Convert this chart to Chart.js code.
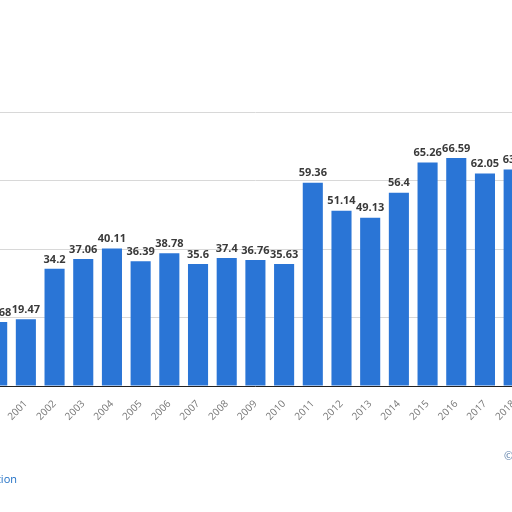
<!DOCTYPE html>
<html><head><meta charset="utf-8">
<script src="https://cdn.jsdelivr.net/npm/chart.js@4/dist/chart.umd.min.js"></script>
<style>
html,body{margin:0;padding:0;width:512px;height:512px;overflow:hidden;background:#fff;font-family:"Open Sans",sans-serif}
#wrap{position:absolute;left:-23.5px;top:0;width:551px;height:512px}
#info{position:absolute;left:-99px;top:471px;font-size:11px;color:#1f6fc5;white-space:nowrap}
#copy{position:absolute;left:504px;top:448px;font-size:11px;color:#5b7ea8}
</style></head><body>
<div id="wrap"><canvas id="c"></canvas></div>
<div id="info">Additional Information</div>
<div id="copy">©</div>
<script>
const years=["2000","2001","2002","2003","2004","2005","2006","2007","2008","2009","2010","2011","2012","2013","2014","2015","2016","2017","2018"];
const values=[18.68,19.47,34.2,37.06,40.11,36.39,38.78,35.6,37.4,36.76,35.63,59.36,51.14,49.13,56.4,65.26,66.59,62.05,63.2];
const yTicks=[0,20,40,60,80];
const labelPlugin={id:'lbl',afterDatasetsDraw(chart){
  const ctx=chart.ctx, meta=chart.getDatasetMeta(0);
  ctx.save();ctx.font='bold 11px "Open Sans"';ctx.fillStyle='#3a3a3a';ctx.textAlign='center';ctx.textBaseline='bottom';
  meta.data.forEach((b,i)=>{ctx.fillText(String(values[i]),b.x,b.y-4);});
  ctx.restore();}};
new Chart(document.getElementById('c'),{type:'bar',
 data:{labels:years,datasets:[{data:values,backgroundColor:'#2a75d6',barPercentage:0.7,categoryPercentage:1}]},
 options:{responsive:true,maintainAspectRatio:false,animation:false,
  layout:{padding:{top:112,left:0,right:0,bottom:0}},
  plugins:{legend:{display:false},tooltip:{enabled:false}},
  scales:{
   x:{grid:{display:false},border:{color:'#222',width:1},
      ticks:{color:'#777',font:{size:10,family:'"Open Sans"'},minRotation:45,maxRotation:45,padding:4},
      afterFit(s){s.height=126;}},
   y:{min:0,max:80,afterBuildTicks(s){s.ticks=yTicks.map(v=>({value:v}));},
      grid:{color:'#d8d8d8',borderDash:[2,2],drawTicks:false},border:{display:false},
      ticks:{display:false},afterFit(s){s.width=0;}}
  }},plugins:[labelPlugin]});
</script></body></html>
